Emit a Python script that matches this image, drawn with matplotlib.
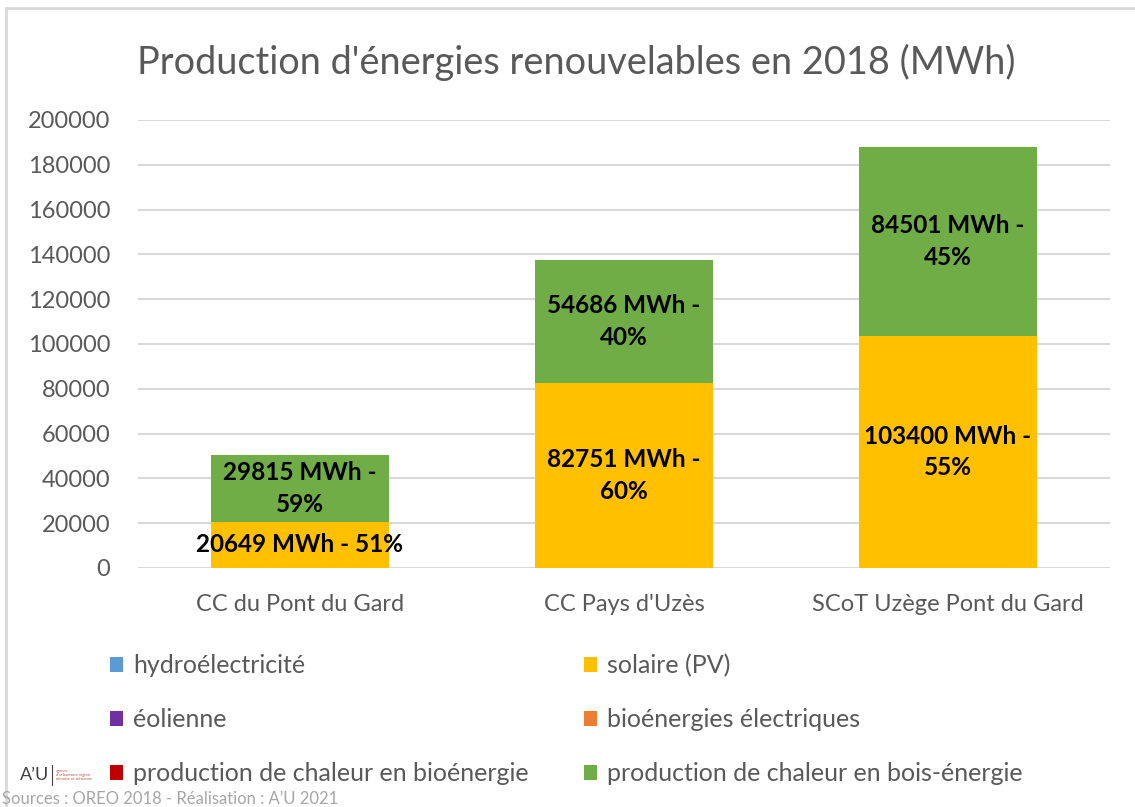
import numpy as np
import matplotlib
matplotlib.use('Agg')
import matplotlib.pyplot as plt
from matplotlib.lines import Line2D

plt.rcParams['font.family'] = ['Lato', 'DejaVu Sans']

categories = ['CC du Pont du Gard', "CC Pays d'Uzès", 'SCoT Uzège Pont du Gard']
series_names = ['hydroélectricité', 'solaire (PV)', 'éolienne',
                'bioénergies électriques', 'production de chaleur en bioénergie',
                'production de chaleur en bois-énergie']
hydro = [0, 0, 0]
solaire = [20649, 82751, 103400]
eolienne = [0, 0, 0]
bio_elec = [0, 0, 0]
chaleur_bio = [0, 0, 0]
bois = [29815, 54686, 84501]
solaire_pct = [51, 60, 55]
bois_pct = [59, 40, 45]
yticks = [0, 20000, 40000, 60000, 80000, 100000, 120000, 140000, 160000, 180000, 200000]

colors = ['#5B9BD5', '#FFC000', '#7030A0', '#ED7D31', '#C00000', '#70AD47']
gray = '#595959'

fig = plt.figure(figsize=(11.35, 8.07), dpi=100)
ax = fig.add_axes([138/1135, 1-568/807, 972/1135, 448/807])

x = np.arange(len(categories))
w = 0.55
bottom = np.zeros(len(categories))
bars = []
for vals, c, name in zip([hydro, solaire, eolienne, bio_elec, chaleur_bio, bois],
                         colors, series_names):
    b = ax.bar(x, vals, w, bottom=bottom, color=c, label=name, zorder=3)
    bars.append(b)
    bottom = bottom + np.array(vals)

# data labels
for i in range(len(categories)):
    if i == 0:
        txt = '%d MWh - %d%%' % (solaire[i], solaire_pct[i])
    else:
        txt = '%d MWh -\n%d%%' % (solaire[i], solaire_pct[i])
    ax.text(x[i], solaire[i]/2, txt, ha='center', va='center', fontsize=17.5,
            fontweight='bold', color='black', linespacing=1.45, zorder=4)
    ax.text(x[i], solaire[i] + bois[i]/2, '%d MWh -\n%d%%' % (bois[i], bois_pct[i]),
            ha='center', va='center', fontsize=17.5, fontweight='bold',
            color='black', linespacing=1.45, zorder=4)

ax.set_xlim(-0.5, 2.5)
ax.set_ylim(0, 200000)
ax.set_yticks(yticks)
ax.set_yticklabels([str(t) for t in yticks])
ax.set_xticks(x)
ax.set_xticklabels(categories)
ax.grid(axis='y', color='#D9D9D9', linewidth=1.5, zorder=0)
ax.tick_params(axis='y', length=0, pad=20, labelsize=17, labelcolor=gray)
ax.tick_params(axis='x', length=0, pad=19, labelsize=17, labelcolor=gray)
for s in ax.spines.values():
    s.set_visible(False)

fig.text(576/1135, 1-62/807, "Production d'énergies renouvelables en 2018 (MWh)",
         ha='center', va='center', fontsize=27.3, color=gray)

# legend, column-major order for 2 columns
order = [0, 2, 4, 1, 3, 5]
handles = [bars[k] for k in order]
labels = [series_names[k] for k in order]
fig.legend(handles, labels, ncol=2, loc='upper left',
           bbox_to_anchor=(110/1135, 1-654/807), frameon=False,
           fontsize=18, labelcolor=gray, handlelength=0.52, handleheight=0.52,
           handletextpad=0.4, labelspacing=1.24, columnspacing=2.2,
           borderpad=0, borderaxespad=0)

# outer frame (top and left edges)
fig.add_artist(Line2D([6/1135, 1], [1-8/807, 1-8/807], color='#D9D9D9', linewidth=2))
fig.add_artist(Line2D([6/1135, 6/1135], [0, 1-8/807], color='#D9D9D9', linewidth=2))

# logo and source
fig.text(20/1135, 1-775/807, 'A’U', fontsize=13, color='#404040', va='center')
fig.add_artist(Line2D([52/1135, 52/1135], [1-785/807, 1-765/807], color='#404040', linewidth=0.8))
fig.text(56/1135, 1-775/807, "agence\nd'urbanisme région\nnîmoise et alésienne",
         fontsize=3, color='#C0504D', va='center', linespacing=1.0)
fig.text(2/1135, 1-799/807, 'Sources : OREO 2018 - Réalisation : A’U 2021',
         fontsize=12, color='#A6A6A6', va='center')

fig.savefig('out.png', dpi=100)
